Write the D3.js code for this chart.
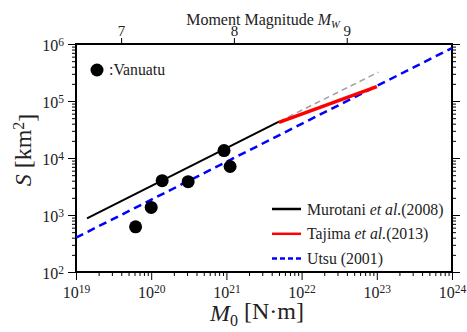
<!DOCTYPE html>
<html>
<head>
<meta charset="utf-8">
<script src="https://cdn.jsdelivr.net/npm/d3@7"></script>
<style>
  body { margin: 0; background: #fff; }
  svg { font-family: 'Liberation Serif', 'DejaVu Serif', serif; }
</style>
</head>
<body>
<div id="chart"></div>
<script>
// Vanuatu events: seismic moment [N·m] vs rupture area [km2]
const vanuatuM0 = [6.2e19, 1.0e20, 1.4e20, 3.1e20, 9.3e20, 1.12e21];
const vanuatuS = [620, 1360, 4000, 3850, 13500, 7100];

// scaling relations, end points
const murotaniM0 = [1.4e19, 5e21];
const murotaniS = [870, 43600];
const murotaniExtM0 = [5e21, 1.05e23];
const murotaniExtS = [43600, 3.2e5];
const tajimaM0 = [5e21, 1e23];
const tajimaS = [42000, 1.78e5];
const utsuM0 = [1e19, 1e24];
const utsuS = [400, 8.5e5];

const xMajor = [1e19, 1e20, 1e21, 1e22, 1e23, 1e24];
const yMajor = [1e2, 1e3, 1e4, 1e5, 1e6];
const mwTicks = [7, 8, 9];

const legendItems = [
  { parts: [['Murotani ', ''], ['et al.', 'italic'], ['(2008)', '']], color: '#000', width: 2.5, dash: null },
  { parts: [['Tajima ', ''], ['et al.', 'italic'], ['(2013)', '']], color: '#ff0000', width: 2.5, dash: null },
  { parts: [['Utsu (2001)', '']], color: '#0000ff', width: 2.5, dash: '5,3' },
];

const totalWidth = 467;
const totalHeight = 332;
const margin = { top: 44, right: 15, bottom: 60, left: 76 };
const width = totalWidth - margin.left - margin.right;
const height = totalHeight - margin.top - margin.bottom;

const xScale = d3.scaleLog().domain([1e19, 1e24]).range([0, width]);
const yScale = d3.scaleLog().domain([1e2, 1e6]).range([height, 0]);

const minorTicks = (majors) => {
  const out = [];
  majors.slice(0, -1).forEach((m) => {
    for (let k = 2; k < 10; k++) out.push(m * k);
  });
  return out;
};

const svg = d3
  .select('#chart')
  .append('svg')
  .attr('width', totalWidth)
  .attr('height', totalHeight)
  .append('g')
  .attr('transform', `translate(${margin.left}, ${margin.top})`);

// power-of-ten labels
const powLabel = (sel) => {
  sel.each(function (d) {
    const t = d3.select(this);
    const exp = Math.round(Math.log10(d));
    t.text('');
    t.append('tspan').text('10');
    t.append('tspan').attr('dy', '-0.45em').style('font-size', '11.5px').text(exp);
  });
};

const styleAxis = (g) => {
  g.select('.domain').remove();
  g.selectAll('.tick line').attr('stroke', '#000').attr('stroke-width', 1);
  g.selectAll('.tick text')
    .attr('fill', '#222')
    .style('font-size', '16px')
    .style('font-family', "'Liberation Serif', serif");
};

// bottom axis
svg
  .append('g')
  .attr('transform', `translate(0, ${height})`)
  .call(d3.axisBottom(xScale).tickValues(xMajor).tickSize(8).tickPadding(7))
  .call(styleAxis)
  .call((g) => g.selectAll('.tick text').call(powLabel));
svg
  .append('g')
  .attr('transform', `translate(0, ${height})`)
  .call(d3.axisBottom(xScale).tickValues(minorTicks(xMajor)).tickSize(4).tickFormat(''))
  .call(styleAxis);

// left axis
svg
  .append('g')
  .call(d3.axisLeft(yScale).tickValues(yMajor).tickSize(8).tickPadding(4))
  .call(styleAxis)
  .call((g) => g.selectAll('.tick text').attr('dy', '0.4em').call(powLabel));
svg
  .append('g')
  .call(d3.axisLeft(yScale).tickValues(minorTicks(yMajor)).tickSize(4).tickFormat(''))
  .call(styleAxis);

// right axis
svg
  .append('g')
  .attr('transform', `translate(${width}, 0)`)
  .call(d3.axisRight(yScale).tickValues(yMajor).tickSize(8).tickFormat(''))
  .call(styleAxis);
svg
  .append('g')
  .attr('transform', `translate(${width}, 0)`)
  .call(d3.axisRight(yScale).tickValues(minorTicks(yMajor)).tickSize(4).tickFormat(''))
  .call(styleAxis);

// top axis: moment magnitude
const mwToM0 = (mw) => Math.pow(10, 1.5 * mw + 9.1);
svg
  .append('g')
  .call(
    d3
      .axisTop(xScale)
      .tickValues(mwTicks.map(mwToM0))
      .tickSize(6)
      .tickPadding(2)
      .tickFormat((d, i) => mwTicks[i])
  )
  .call(styleAxis)
  .call((g) => g.selectAll('.tick text').style('font-size', '15px'));

// frame
svg
  .append('rect')
  .attr('width', width)
  .attr('height', height)
  .attr('fill', 'none')
  .attr('stroke', '#000')
  .attr('stroke-width', 2);

// clip
svg.append('clipPath').attr('id', 'plot-clip').append('rect').attr('width', width).attr('height', height);
const plot = svg.append('g').attr('clip-path', 'url(#plot-clip)');

const line = d3
  .line()
  .x((d) => xScale(d[0]))
  .y((d) => yScale(d[1]));
const zip = (a, b) => a.map((v, i) => [v, b[i]]);

plot
  .append('path')
  .attr('d', line(zip(murotaniExtM0, murotaniExtS)))
  .attr('fill', 'none')
  .attr('stroke', '#a0a0a0')
  .attr('stroke-width', 1.5)
  .attr('stroke-dasharray', '6,4');

plot
  .append('path')
  .attr('d', line(zip(utsuM0, utsuS)))
  .attr('fill', 'none')
  .attr('stroke', '#0000ff')
  .attr('stroke-width', 2.5)
  .attr('stroke-dasharray', '8,5');

plot
  .append('path')
  .attr('d', line(zip(murotaniM0, murotaniS)))
  .attr('fill', 'none')
  .attr('stroke', '#000')
  .attr('stroke-width', 2);

plot
  .append('path')
  .attr('d', line(zip(tajimaM0, tajimaS)))
  .attr('fill', 'none')
  .attr('stroke', '#ff0000')
  .attr('stroke-width', 3.5);

// data points
plot
  .selectAll('circle.ev')
  .data(zip(vanuatuM0, vanuatuS))
  .join('circle')
  .attr('class', 'ev')
  .attr('cx', (d) => xScale(d[0]))
  .attr('cy', (d) => yScale(d[1]))
  .attr('r', 6.5)
  .attr('fill', '#000');

// Vanuatu legend
svg.append('circle').attr('cx', 21).attr('cy', 26).attr('r', 6.5).attr('fill', '#000');
svg
  .append('text')
  .attr('x', 33)
  .attr('y', 31)
  .style('font-size', '15.8px')
  .attr('fill', '#222')
  .text(':Vanuatu');

// line legend
const legend = svg.append('g').attr('transform', `translate(${196}, ${165})`);
legendItems.forEach((item, i) => {
  const y = i * 24.8;
  legend
    .append('line')
    .attr('x1', 0)
    .attr('x2', 29)
    .attr('y1', y)
    .attr('y2', y)
    .attr('stroke', item.color)
    .attr('stroke-width', item.width)
    .attr('stroke-dasharray', item.dash);
  const t = legend
    .append('text')
    .attr('x', 35)
    .attr('y', y + 5.5)
    .style('font-size', '15.8px')
    .attr('fill', '#222');
  item.parts.forEach(([txt, st]) => {
    t.append('tspan').style('font-style', st || 'normal').text(txt);
  });
});

// axis titles
const xTitle = svg
  .append('text')
  .attr('x', width / 2 - 7)
  .attr('y', height + 49)
  .attr('text-anchor', 'middle')
  .style('font-size', '24px')
  .attr('fill', '#222');
xTitle.append('tspan').style('font-style', 'italic').text('M');
xTitle.append('tspan').attr('dy', '0.3em').style('font-size', '16px').text('0');
xTitle.append('tspan').attr('dy', '-0.3em').text(' [N·m]');

const yTitle = svg
  .append('text')
  .attr('transform', `translate(${-45}, ${height / 2 - 8}) rotate(-90)`)
  .attr('text-anchor', 'middle')
  .style('font-size', '24px')
  .attr('fill', '#222');
yTitle.append('tspan').style('font-style', 'italic').text('S');
yTitle.append('tspan').text(' [km');
yTitle.append('tspan').attr('dy', '-0.45em').style('font-size', '16px').text('2');
yTitle.append('tspan').attr('dy', '0.45em').text(']');

const topTitle = svg
  .append('text')
  .attr('x', 187)
  .attr('y', -19)
  .attr('text-anchor', 'middle')
  .style('font-size', '16px')
  .attr('fill', '#222');
topTitle.append('tspan').text('Moment Magnitude ');
topTitle.append('tspan').style('font-style', 'italic').text('M');
topTitle.append('tspan').attr('dy', '0.3em').style('font-size', '10.5px').style('font-style', 'italic').text('W');
</script>
</body>
</html>
